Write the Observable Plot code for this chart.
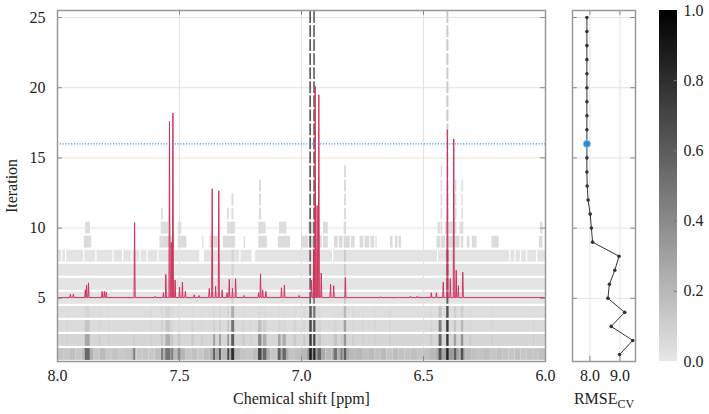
<!DOCTYPE html>
<html><head><meta charset="utf-8">
<script src="https://cdn.jsdelivr.net/npm/d3@7"></script>
<script src="https://cdn.jsdelivr.net/npm/@observablehq/plot@0.6"></script>
<style>
html,body{margin:0;padding:0;background:#fff;}
#wrap{position:relative;width:709px;height:414px;overflow:hidden;font-family:"Liberation Serif",serif;}
#wrap svg{position:absolute;top:0;}
#wrap svg text{font-family:"Liberation Serif",serif;}
</style></head><body><div id="wrap"></div>
<script>
// ---------- data ----------
const iterations = [1,2,3,4,5,6,7,8,9,10,11,12,13,14,15,16,17,18,19,20,21,22,23,24,25];
const rmseCV = [8.99,9.43,8.71,9.16,8.60,8.65,8.83,8.97,8.09,8.05,8.01,7.94,7.91,7.90,7.90,7.90,7.90,7.90,7.90,7.90,7.90,7.90,7.90,7.90,7.90];
const bestIteration = 16;
const xTicks = [8.0,7.5,7.0,6.5,6.0];
const yTicks = [5,10,15,20,25];
const rmseTicks = [8.0,9.0];
const colorTicks = [0,0.2,0.4,0.6,0.8,1.0];

// spectrum peaks: [ppm, top] (in iteration units, baseline at 5.05)
const baselineLevel = 5.05;
const peaks = [
 [7.947,5.3],[7.935,5.3],
 [7.886,5.6],[7.881,5.95],[7.873,6.1],
 [7.817,5.5],[7.808,5.5],[7.800,5.45],
 [7.684,10.4],
 [7.600,5.15],
 [7.566,5.4],[7.556,6.7],[7.541,17.6],[7.534,9.0],[7.527,18.2],[7.518,6.3],
 [7.500,5.8],[7.488,6.15],[7.476,5.5],[7.440,5.25],[7.420,5.2],
 [7.378,5.7],[7.366,12.8],[7.352,5.85],[7.339,12.65],[7.325,5.6],
 [7.305,5.4],[7.296,6.35],[7.283,5.7],[7.270,6.4],
 [7.235,5.2],
 [7.176,5.4],[7.168,6.75],[7.159,5.6],[7.146,5.5],
 [7.082,5.75],[7.070,5.95],
 [7.010,5.2],
 [6.959,6.3],[6.950,8.5],[6.944,20.1],[6.936,11.6],[6.929,19.5],[6.919,6.8],
 [6.881,6.0],[6.868,5.9],
 [6.820,6.5],
 [6.676,5.12],[6.600,5.1],[6.553,5.15],[6.526,5.15],
 [6.468,5.4],[6.447,5.4],[6.419,6.15],
 [6.402,17.0],[6.390,6.4],[6.376,16.35],[6.366,7.0],[6.357,5.9],[6.339,6.85]
];

// heat map: iteration-1 shading on a 0.025 ppm grid from 8.0 down to 6.0
const row1Shade = [
 0.15,0.13,0.17,0.14,0.19,0.23,0.14,0.19,0.13,0.15,
 0.12,0.14,0.18,0.13,0.15,0.13,0.17,0.23,0.26,0.2,
 0.21,0.14,0.16,0.13,0.18,0.24,0.26,0.2,0.29,0.2,
 0.15,0.14,0.18,0.29,0.23,0.14,0.26,0.25,0.15,0.17,
 0.2,0.35,0.32,0.26,0.2,0.23,0.23,0.25,0.19,0.2,
 0.17,0.19,0.16,0.19,0.15,0.18,0.16,0.15,0.17,0.14,
 0.16,0.2,0.25,0.29,0.32,0.29,0.26,0.19,0.16,0.15,
 0.17,0.14,0.16,0.15,0.14,0.16,0.13,0.15,0.14,0.16
];
// full-width shading of iterations 2-8
const bandIter = [2,3,4,5,6,7,8];
const bandValue = [0.07,0.05,0.035,0.01,0.01,0.01,0.015];
// faint stripes in iterations 2-4: [from, to, v2, v3, v4]
const faintCols = [
 [7.96,7.955,0.1,0.07,0.05],[7.83,7.822,0.11,0.07,0.05],[7.79,7.785,0.1,0.07,0.05],
 [7.62,7.612,0.1,0.07,0.05],[7.45,7.44,0.12,0.08,0.05],[7.41,7.404,0.1,0.07,0.05],
 [7.24,7.232,0.12,0.08,0.05],[7.21,7.204,0.1,0.07,0.05],[7.03,7.02,0.12,0.08,0.05],
 [6.99,6.982,0.12,0.08,0.06],[6.79,6.782,0.11,0.07,0.05],[6.75,6.744,0.1,0.07,0.05],
 [6.70,6.694,0.1,0.07,0.05],[6.64,6.632,0.1,0.07,0.05],[6.47,6.462,0.12,0.08,0.06],
 [6.31,6.302,0.11,0.07,0.05],[6.22,6.212,0.1,0.07,0.05],[6.05,6.044,0.1,0.07,0.05]
];
// darker variable columns in iterations 1-4: [from, to, v1, v2, v3, v4]
const darkCols = [
 [7.886,7.866,0.55,0.28,0.14,0.07],
 [7.687,7.681,0.5,0.1,0.05,0.04],
 [7.574,7.566,0.45,0.15,0.1,0.06],
 [7.556,7.536,0.5,0.25,0.14,0.08],
 [7.532,7.524,0.45,0.15,0.08,0.05],
 [7.505,7.495,0.4,0.12,0.06,0.04],
 [7.360,7.352,0.6,0.3,0.1,0.06],
 [7.336,7.328,0.6,0.3,0.1,0.06],
 [7.302,7.295,0.7,0.35,0.15,0.08],
 [7.286,7.274,0.8,0.6,0.5,0.25],
 [7.176,7.162,0.7,0.4,0.18,0.06],
 [7.156,7.142,0.55,0.25,0.1,0.05],
 [7.094,7.084,0.6,0.3,0.08,0.05],
 [7.076,7.062,0.55,0.25,0.06,0.04],
 [6.966,6.956,0.9,0.75,0.7,0.6],
 [6.950,6.941,0.85,0.7,0.65,0.5],
 [6.932,6.918,0.55,0.15,0.08,0.05],
 [6.866,6.852,0.5,0.15,0.06,0.04],
 [6.838,6.830,0.45,0.12,0.05,0.04],
 [6.825,6.815,0.6,0.35,0.3,0.2],
 [6.436,6.424,0.65,0.55,0.45,0.15],
 [6.405,6.395,0.85,0.75,0.75,0.65],
 [6.374,6.364,0.6,0.3,0.15,0.1],
 [6.345,6.335,0.65,0.35,0.2,0.1]
];
// white gaps in iteration 8: [from, to]
const row8Gaps = [
 [7.983,7.978],[7.967,7.962],[7.893,7.888],[7.843,7.838],[7.773,7.768],[7.733,7.728],
 [7.697,7.692],[7.663,7.658],[7.633,7.628],[7.589,7.584],[7.528,7.523],[7.417,7.398],
 [7.253,7.248],[7.203,7.188],[6.873,6.868],[6.443,6.438],[6.147,6.142],[6.126,6.121],
 [6.103,6.098],[6.078,6.073],[6.037,6.032]
];
// iteration 9 and 10 selected windows: [from, to]
const row9Cells = [
 [7.89,7.86],[7.58,7.52],[7.505,7.47],[7.405,7.40],[7.375,7.34],[7.32,7.27],[7.235,7.23],
 [7.175,7.14],[7.095,7.045],[7.0,6.97],[6.965,6.94],[6.93,6.915],[6.91,6.89],
 [6.865,6.85],[6.845,6.83],[6.825,6.80],[6.795,6.78],[6.76,6.745],[6.74,6.72],[6.715,6.70],
 [6.695,6.69],[6.635,6.625],[6.615,6.605],[6.60,6.59],[6.445,6.43],[6.425,6.41],[6.405,6.37],
 [6.365,6.35],[6.345,6.335],[6.32,6.31],[6.30,6.28],[6.22,6.19],[6.025,6.01]
];
const row9Value = 0.05;
const row10Cells = [
 [7.885,7.865],[7.575,7.545],[7.505,7.49],[7.30,7.27],[7.175,7.145],[7.09,7.06],
 [6.97,6.94],[6.91,6.89],[6.825,6.815],[6.44,6.43],[6.41,6.37],[6.35,6.335],[6.02,6.01]
];
const row10Value = 0.04;
// columns kept in iterations 5-8: [from, to, value]
const midCols = [
 [6.966,6.959,0.55],[6.950,6.943,0.5],[6.404,6.396,0.6],[6.824,6.816,0.12],[7.285,7.276,0.08]
];
// columns kept from iteration 9 up to lastIter: [from, to, lastIter, value]
const upperCols = [
 [6.966,6.959,25,0.6],[6.950,6.943,25,0.55],[6.404,6.396,25,0.12],
 [6.824,6.816,14,0.05],[7.172,7.164,13,0.05],[7.285,7.277,12,0.05],[7.303,7.296,11,0.04],
 [7.574,7.566,11,0.03],[6.428,6.421,14,0.04],[6.370,6.363,13,0.04],[6.343,6.337,13,0.04]
];

// ---------- tables for the marks ----------
const cells = [];
row1Shade.forEach((v,i)=>cells.push({x1:8-0.025*i, x2:8-0.025*(i+1), it:1, v}));
bandIter.forEach((it,k)=>cells.push({x1:8, x2:6, it, v:bandValue[k]}));
faintCols.forEach(([a,b,...vs])=>vs.forEach((v,k)=>cells.push({x1:a,x2:b,it:k+2,v})));
darkCols.forEach(([a,b,...vs])=>vs.forEach((v,k)=>cells.push({x1:a,x2:b,it:k+1,v})));
row9Cells.forEach(([a,b])=>cells.push({x1:a,x2:b,it:9,v:row9Value}));
row10Cells.forEach(([a,b])=>cells.push({x1:a,x2:b,it:10,v:row10Value}));
const gaps = row8Gaps.map(([a,b])=>({x1:a,x2:b,it:8}));
const keep = [];
midCols.forEach(([a,b,v])=>[5,6,7,8].forEach(it=>keep.push({x1:a,x2:b,it,v})));
upperCols.forEach(([a,b,last,v])=>iterations.filter(it=>it>=9&&it<=last).forEach(it=>keep.push({x1:a,x2:b,it,v})));

const spec = [{x:8.0,y:baselineLevel},{x:6.0,y:baselineLevel}];
peaks.forEach(([p,h])=>{spec.push({x:p+0.0022,y:baselineLevel},{x:p,y:h},{x:p-0.0022,y:baselineLevel});});
spec.sort((a,b)=>b.x-a.x);

const rmseData = iterations.map((it,i)=>({it, r:rmseCV[i]}));

const FONT = "Liberation Serif, serif";
const colorScale = {type:"linear", domain:[0,1], range:["#e6e6e6","#000000"]};
const style = {fontFamily:FONT, fontSize:"16px", color:"#222", background:"transparent", overflow:"visible"};
const H = 414, MT = 10, MB = 53;
const yDom = [0.5,25.5];
const cellY1 = d=>d.it-0.42, cellY2 = d=>d.it+0.42;
const gridCol = "#e3e3e3", frameCol = "#999", tickCol = "#888";

// ---------- main panel ----------
const main = Plot.plot({
  width:552, height:H, marginLeft:57, marginRight:7, marginTop:MT, marginBottom:MB,
  style,
  x:{domain:[8,6]}, y:{domain:yDom}, color:colorScale,
  marks:[
    Plot.ruleX([7.5,7.0,6.5],{x:d=>d, stroke:gridCol}),
    Plot.ruleY(yTicks,{y:d=>d, stroke:gridCol}),
    Plot.rect(cells,{x1:"x1",x2:"x2",y1:cellY1,y2:cellY2,fill:"v"}),
    Plot.rect(gaps,{x1:"x1",x2:"x2",y1:cellY1,y2:cellY2,fill:"white"}),
    Plot.rect(keep,{x1:"x1",x2:"x2",y1:cellY1,y2:cellY2,fill:"v"}),
    Plot.line(spec,{x:"x",y:"y",stroke:"#d0305a",strokeWidth:1}),
    Plot.ruleY([bestIteration],{y:d=>d, stroke:"#3d9ad6", strokeWidth:1.2, strokeDasharray:"1.2,1.6"}),
    Plot.ruleX(xTicks,{x:d=>d, y1:0.5, y2:0.85, stroke:tickCol}),
    Plot.ruleX(xTicks,{x:d=>d, y1:25.5, y2:25.15, stroke:tickCol}),
    Plot.ruleY(yTicks,{y:d=>d, x1:8, x2:7.98, stroke:tickCol}),
    Plot.ruleY(yTicks,{y:d=>d, x1:6, x2:6.02, stroke:tickCol}),
    Plot.frame({stroke:frameCol, strokeWidth:1.5}),
    Plot.axisX({ticks:xTicks, tickFormat:d=>d.toFixed(1), tickSize:0, tickPadding:8, label:null, fontFamily:FONT, fontSize:16}),
    Plot.axisY({ticks:yTicks, tickSize:0, tickPadding:12, label:null, fontFamily:FONT, fontSize:16}),
    Plot.text(["Iteration"],{frameAnchor:"left", dx:-46, rotate:-90, textAnchor:"middle", fontSize:16, fontFamily:FONT}),
    Plot.text(["Chemical shift [ppm]"],{frameAnchor:"bottom", dy:42, textAnchor:"middle", fontSize:16, fontFamily:FONT})
  ]
});
main.style.left = "0px";

// ---------- RMSE panel ----------
const rm = Plot.plot({
  width:100, height:H, marginLeft:20, marginRight:17, marginTop:MT, marginBottom:MB,
  style,
  x:{domain:[7.42,9.52]}, y:{domain:yDom, axis:null},
  marks:[
    Plot.ruleX(rmseTicks,{x:d=>d, stroke:gridCol}),
    Plot.ruleY(yTicks,{y:d=>d, stroke:gridCol}),
    Plot.line(rmseData,{x:"r",y:"it",stroke:"#333",strokeWidth:1}),
    Plot.dot(rmseData,{x:"r",y:"it",r:1.8,fill:"#333"}),
    Plot.dot(rmseData.filter(d=>d.it===bestIteration),{x:"r",y:"it",r:3.6,fill:"#2f88c8",stroke:"#8cc4ea",strokeWidth:1}),
    Plot.ruleX(rmseTicks,{x:d=>d, y1:0.5, y2:0.85, stroke:tickCol}),
    Plot.ruleX(rmseTicks,{x:d=>d, y1:25.5, y2:25.15, stroke:tickCol}),
    Plot.ruleY(yTicks,{y:d=>d, x1:7.42, x2:7.58, stroke:tickCol}),
    Plot.ruleY(yTicks,{y:d=>d, x1:9.52, x2:9.36, stroke:tickCol}),
    Plot.frame({stroke:frameCol, strokeWidth:1.5}),
    Plot.axisX({ticks:rmseTicks, tickFormat:d=>d.toFixed(1), tickSize:0, tickPadding:8, label:null, fontFamily:FONT, fontSize:16}),
    Plot.text(["RMSE"],{frameAnchor:"bottom", dy:42, textAnchor:"middle", fontSize:16, fontFamily:FONT})
  ]
});
rm.style.left = "552px";
d3.select(rm).selectAll("text").filter(function(){return this.textContent==="RMSE";})
  .append("tspan").attr("font-size","12px").attr("dy","4").text("CV");

// ---------- colour bar ----------
const rampSteps = d3.range(0,1,0.004);
const cb = Plot.plot({
  width:57, height:H, marginLeft:7, marginRight:32, marginTop:MT, marginBottom:MB,
  style,
  x:{domain:[0,1], axis:null}, y:{domain:[0,1]}, color:colorScale,
  marks:[
    Plot.rect(rampSteps,{x1:0,x2:1,y1:d=>d,y2:d=>d+0.0045,fill:d=>d+0.002,shapeRendering:"crispEdges"}),
    Plot.ruleY(colorTicks.slice(1,5),{y:d=>d, x1:1, x2:0.82, stroke:"#777"}),
    Plot.axisY({anchor:"right", ticks:colorTicks, tickFormat:d=>d.toFixed(1), tickSize:0, tickPadding:6, label:null, fontFamily:FONT, fontSize:16})
  ]
});
cb.style.left = "652px";

const wrap = document.getElementById("wrap");
wrap.append(main, rm, cb);
</script></body></html>
